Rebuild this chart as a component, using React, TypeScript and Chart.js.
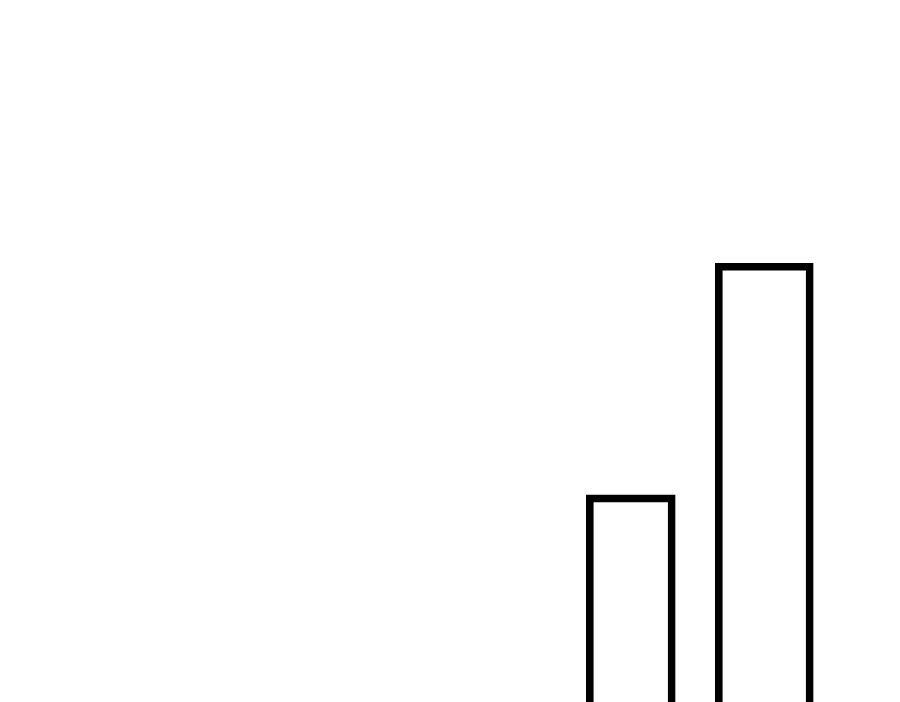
import { Chart, registerables } from "chart.js";
import React, { useEffect, useRef } from "react";

Chart.register(...registerables);

// two categories, no visible labels in the reference
const categories = ["a", "b"];
const firstBar = [29.5, null];
const secondBar = [null, 62.5];
const yMax = 100;

const App: React.FC = () => {
  const chartRef = useRef<Chart>();
  const canvasRef = useRef<HTMLCanvasElement>(null);

  useEffect(() => {
    const canvas = canvasRef.current;
    if (!canvas) {
      return;
    }

    const ctx = canvas.getContext("2d");
    if (!ctx) {
      return;
    }

    chartRef.current = new Chart(ctx, {
      type: "bar",
      data: {
        labels: categories,
        datasets: [
          {
            data: firstBar,
            barThickness: 89,
            backgroundColor: "rgba(255, 255, 255, 0)",
            borderColor: "#000000",
            borderWidth: 7,
            grouped: false,
          },
          {
            data: secondBar,
            barThickness: 98,
            backgroundColor: "rgba(255, 255, 255, 0)",
            borderColor: "#000000",
            borderWidth: 7,
            grouped: false,
          },
        ],
      },
      options: {
        responsive: false,
        animation: false,
        layout: {
          padding: { left: 564, right: 69, top: 0, bottom: 0 },
        },
        scales: {
          x: { display: false },
          y: { display: false, min: 0, max: yMax },
        },
        plugins: {
          legend: { display: false },
          tooltip: { enabled: false },
        },
      },
    });

    return () => {
      if (chartRef.current) {
        chartRef.current.destroy();
      }
    };
  }, []);

  return (
    <div style={{ position: "fixed", left: 0, top: 0, width: 900, height: 702, background: "#fff" }}>
      <canvas ref={canvasRef} width={900} height={702} />
    </div>
  );
};

export default App;
